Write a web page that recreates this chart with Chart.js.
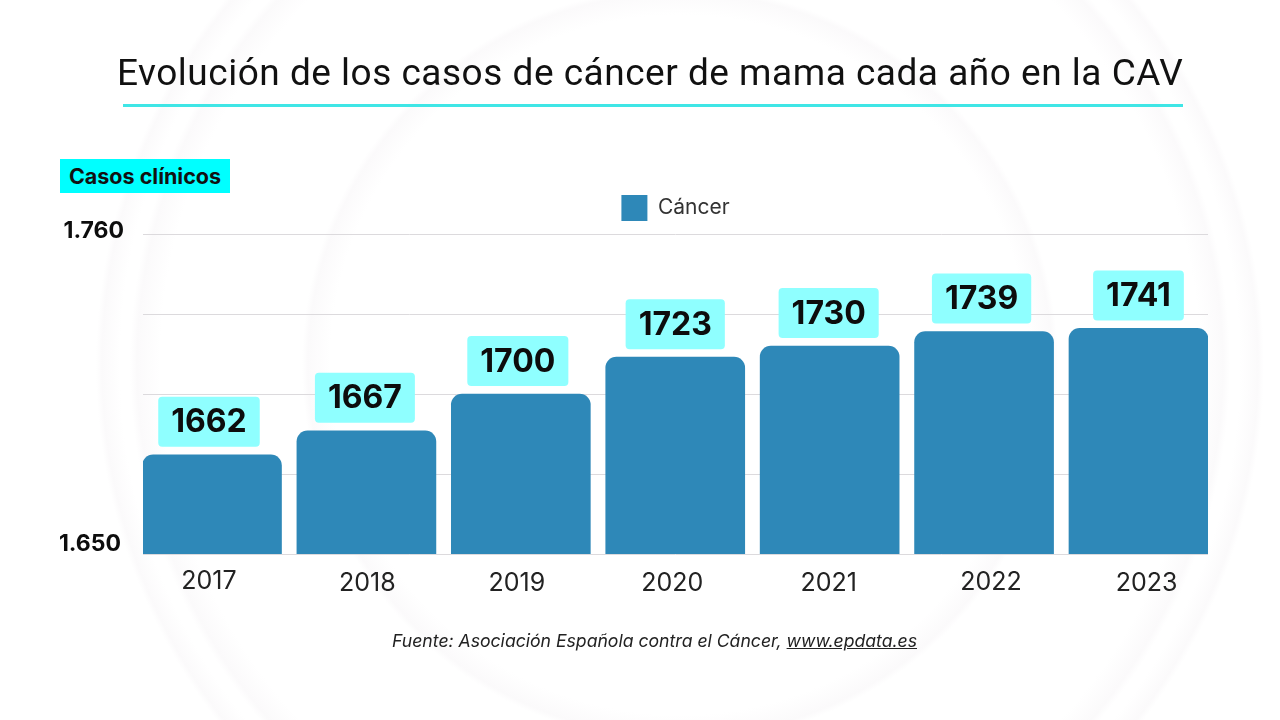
<!DOCTYPE html>
<html lang="es"><head><meta charset="utf-8">
<script src="https://cdn.jsdelivr.net/npm/chart.js@4/dist/chart.umd.min.js"></script>
<style>
html,body{margin:0;padding:0;width:1280px;height:720px;overflow:hidden}
body{position:relative;font-family:Inter,sans-serif;background:
 radial-gradient(circle at 680px 365px,#fff 0,#fff 350px,#fbfafb 372px,#fff 378px,#fff 520px,#fbfafb 543px,#fff 550px,#fff 560px,#fbfafb 578px,#fff 584px)}
canvas{position:absolute;left:0;top:0}
.t{position:absolute;white-space:nowrap;color:#111}
#title{left:117px;top:51px;font:400 37px Roboto,sans-serif;letter-spacing:0.51px}
#rule{position:absolute;left:123px;top:104px;width:1060px;height:3px;background:#3fe6e6}
#badge{left:60px;top:159px;width:170px;height:34px;background:#00ffff;text-align:center;font:700 21.5px/35px Inter,sans-serif}
#src{left:392px;top:630px;font:italic 400 17.63px Inter,sans-serif;color:#222}
#src u{text-decoration:underline}
</style></head><body>
<canvas id="c" width="1280" height="720"></canvas>
<div class="t" id="title">Evolución de los casos de cáncer de mama cada año en la CAV</div>
<div id="rule"></div>
<div class="t" id="badge">Casos clínicos</div>
<div class="t" id="src">Fuente: Asociación Española contra el Cáncer, <u>www.epdata.es</u></div>
<script>
const categories=['2017','2018','2019','2020','2021','2022','2023'];
const barValues=[1662,1677,1700,1723,1730,1739,1741];
const printedValues=[1662,1667,1700,1723,1730,1739,1741];
const seriesName='Cáncer';
const axisMin=1600, axisMax=1800, axisStep=50;
const yTickText={1800:'1.760',1600:'1.650'};
const xLabelNudge=[-3,1,-4,-3,-1,7,8];
const xLabelDrop=[-2,0,0,0,0,-1,0];
const boxNudge=[-3,-1.5,-3,0,-1,-2.5,0];
const plotTop=234;

const plotFit={id:'plotFit',
 afterLayout(chart){
  const a=chart.chartArea,y=chart.scales.y;
  a.top=plotTop;a.height=a.bottom-plotTop;
  y.top=plotTop;y.height=y.bottom-plotTop;
  y.configure();
 }};
const labelBoxes={id:'labelBoxes',
 afterDatasetsDraw(chart){
  const ctx=chart.ctx,bars=chart.getDatasetMeta(0).data;
  ctx.save();
  ctx.font='700 32px Inter,sans-serif';
  ctx.textAlign='center';ctx.textBaseline='middle';
  bars.forEach((b,i)=>{
   const txt=String(printedValues[i]),w=ctx.measureText(txt).width+26,h=50;
   const cx=b.x+boxNudge[i],bottom=b.y-8;
   ctx.fillStyle='#8fffff';
   ctx.beginPath();ctx.roundRect(cx-w/2,bottom-h,w,h,4);ctx.fill();
   ctx.fillStyle='#0d0d0d';
   ctx.fillText(txt,cx,bottom-h/2+1);
  });
  ctx.restore();
 }};
const tickNudge={id:'tickNudge',
 afterUpdate(chart){
  chart.scales.x.getLabelItems().forEach((it,i)=>{
   it.options.translation=[it.options.translation[0]+xLabelNudge[i],it.options.translation[1]+xLabelDrop[i]];
  });
  chart.scales.y.getLabelItems().forEach(it=>{
   if(it.label==='1.650'){it.options.translation=[it.options.translation[0]-3,it.options.translation[1]-10];}
   if(it.label==='1.760'){it.options.translation=[it.options.translation[0],it.options.translation[1]-3];}
  });
 }};
new Chart(document.getElementById('c'),{
 type:'bar',
 data:{labels:categories,datasets:[{label:seriesName,data:barValues,backgroundColor:'#2e88b8',
  barThickness:139,borderRadius:{topLeft:11,topRight:11,bottomLeft:0,bottomRight:0},borderSkipped:false}]},
 plugins:[plotFit,labelBoxes,tickNudge],
 options:{responsive:false,animation:false,
  layout:{padding:{left:0,right:72,top:174,bottom:0}},
  plugins:{title:{display:false},tooltip:{enabled:false},
   legend:{position:'top',align:'center',fullSize:false,labels:{boxWidth:26,boxHeight:26,padding:21,color:'#333',font:{family:'Inter',size:21}}}},
  scales:{
   x:{afterBuildTicks(s){s._startValue=-0.4468;s._valueRange=6.897;},
    afterFit(s){s.height=166;},
    grid:{display:false},border:{display:false},
    ticks:{color:'#222',padding:6,maxRotation:0,autoSkip:false,font:{family:'Inter',size:25}}},
   y:{min:axisMin,max:axisMax,afterFit(s){s.width=143;},
    grid:{color:'#dcdadd',lineWidth:1,drawTicks:false},border:{display:false},
    ticks:{stepSize:axisStep,padding:19,color:'#0d0d0d',font:{family:'Inter',size:23,weight:'700'},
     callback:v=>yTickText[v]||''}}
  }}
});
</script></body></html>
